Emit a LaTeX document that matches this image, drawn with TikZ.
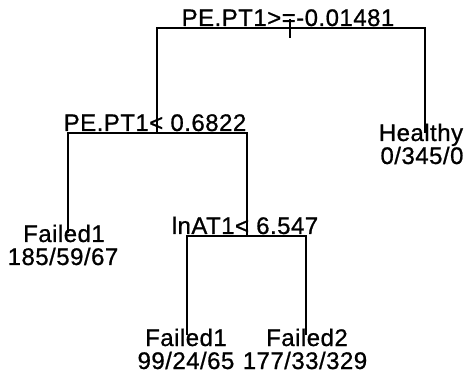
\documentclass[tikz,border=0pt]{standalone}
\usepackage{fontspec}
\setmainfont{Liberation Sans}[FakeBold=0.8]

\begin{document}
\begin{tikzpicture}[
  x=1pt,
  y=-1pt,
  branch/.style={draw=black,line width=1.3pt},
  lbl/.style={anchor=base,inner sep=0pt,font=\fontsize{24}{23}\selectfont\addfontfeature{LetterSpace=2}}
]
  \useasboundingbox (0,0) rectangle (466,382);

  % Split and leaf positions of the tree.
  \coordinate (root) at (290,28);
  \coordinate (pept) at (157,133);
  \coordinate (lnat) at (247,236);
  \coordinate (healthy) at (425,133);
  \coordinate (failA) at (68,233);
  \coordinate (failB) at (187,335);
  \coordinate (failC) at (306,335);

  % Branches.
  \draw[branch] (pept) |- (root) -| (healthy);
  \draw[branch] (failA) |- (pept) -| (lnat);
  \draw[branch] (failB) |- (lnat) -| (failC);
  \draw[branch] (root) ++(0,-9) -- ++(0,19);

  % Split labels.
  \node[lbl] (rootlbl) at (288,26) {PE.PT1>=-0.01481};
  \node[lbl] (peptlbl) at (155,131) {PE.PT1< 0.6822};
  \node[lbl] (lnatlbl) at (245,234) {lnAT1< 6.547};

  % Leaf labels.
  \node[lbl] (healthylbl) at (421,141) {Healthy};
  \node[lbl] (healthyn) at (422,164) {0/345/0};
  \node[lbl] (failAlbl) at (64,242) {Failed1};
  \node[lbl] (failAn) at (63,265) {185/59/67};
  \node[lbl] (failBlbl) at (186,346) {Failed1};
  \node[lbl] (failBn) at (186,369) {99/24/65};
  \node[lbl] (failClbl) at (307,346) {Failed2};
  \node[lbl] (failCn) at (305,369) {177/33/329};
\end{tikzpicture}
\end{document}
